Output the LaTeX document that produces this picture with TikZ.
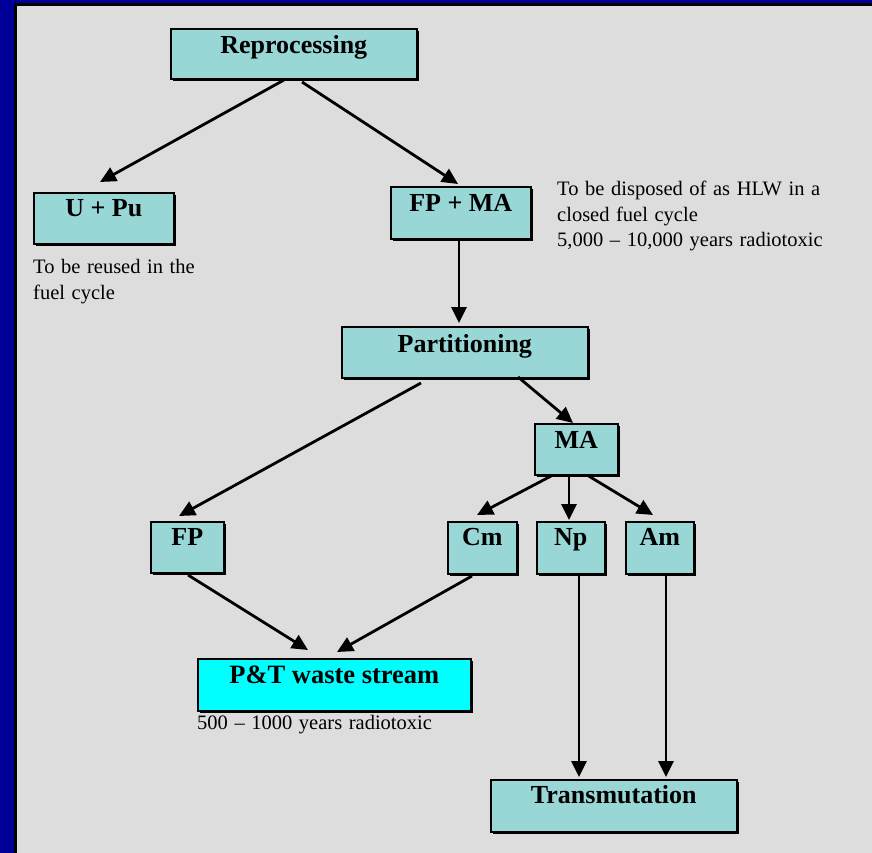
\documentclass[tikz,border=0pt]{standalone}
\usepackage{fontspec}
\setmainfont{Liberation Serif}
\usetikzlibrary{arrows.meta,shadows,calc}
\definecolor{frameblue}{RGB}{0,0,153}
\definecolor{panelgray}{RGB}{221,221,221}
\definecolor{boxteal}{RGB}{153,214,214}
\definecolor{ptcyan}{RGB}{0,255,255}
\newcommand\mynotefont{\fontsize{20.5}{25}\selectfont\spaceskip 6.6pt\relax}
\begin{document}
\begin{tikzpicture}[x=1pt,y=-1pt,
  box/.style={draw=black, line width=1.6pt, fill=boxteal, inner sep=0pt, anchor=north west,
    font=\fontsize{26}{30}\selectfont\bfseries,
    drop shadow={shadow xshift=2pt, shadow yshift=-2pt, opacity=1, fill=black}},
  note/.style={anchor=base west, inner sep=0pt, font=\mynotefont},
  arr/.style={line width=2.8pt, -{Triangle[length=16pt,width=15pt]}}]
\useasboundingbox (0,0) rectangle (872,853);
\fill[frameblue] (0,0) rectangle (872,853);
\fill[black] (13.5,2.7) rectangle (872,853);
\fill[panelgray] (17,6.5) rectangle (872,853);

\node[box, minimum width=246pt, text height=25pt, text depth=25pt] (rep) at (170,28) {Reprocessing};
\node[box, minimum width=140pt, text height=24pt, text depth=27pt] (upu) at (33,192) {U + Pu};
\node[box, minimum width=140pt, text height=25pt, text depth=27pt] (fpma) at (390,186) {FP + MA};
\node[box, minimum width=246pt, text height=26pt, text depth=25pt] (part) at (341,326) {Partitioning};
\node[box, minimum width=83pt, text height=25pt, text depth=26pt] (ma) at (534,423) {MA};
\node[box, minimum width=73pt, text height=24pt, text depth=27pt] (fp) at (150,521) {FP};
\node[box, minimum width=69pt, text height=24pt, text depth=28pt] (cm) at (447,521) {Cm};
\node[box, minimum width=68pt, text height=24pt, text depth=28pt] (np) at (536,521) {Np};
\node[box, minimum width=68pt, text height=24pt, text depth=28pt] (am) at (625,521) {Am};
\node[box, fill=ptcyan, minimum width=273pt, text height=25pt, text depth=27pt, font=\fontsize{26.5}{30}\selectfont\bfseries] (pt) at (197,658) {P\&T waste stream};
\node[box, minimum width=246pt, text height=24pt, text depth=28pt] (trans) at (490,779) {Transmutation};

\draw[arr] ($(rep.north west)+(114,52)$) -- ($(upu.north west)+(67,-10)$);
\draw[arr] ($(rep.north west)+(132,54)$) -- ($(fpma.north west)+(68,-2)$);
\draw[arr] ($(fpma.north west)+(69,52)$) -- ($(part.north west)+(118,-3)$);
\draw[arr] ($(part.north west)+(80,57)$) -- ($(fp.north west)+(29,-5)$);
\draw[arr] ($(part.north west)+(177,51)$) -- ($(ma.north west)+(39,0)$);
\draw[arr] ($(ma.north west)+(19,52)$) -- ($(cm.north west)+(30,-6)$);
\draw[arr] ($(ma.north west)+(35,52)$) -- ($(np.north west)+(33,-1)$);
\draw[arr] ($(ma.north west)+(53,52)$) -- ($(am.north west)+(28,-6)$);
\draw[arr] ($(fp.north west)+(38,54)$) -- ($(pt.north west)+(111,-8)$);
\draw[arr] ($(cm.north west)+(25,55)$) -- ($(pt.north west)+(140,-6)$);
\draw[arr] ($(np.north west)+(43,52)$) -- ($(trans.north west)+(89,-2)$);
\draw[arr] ($(am.north west)+(41,52)$) -- ($(trans.north west)+(176,-2)$);

\node[note] (n1a) at (557,196) {To be disposed of as HLW in a};
\node[note] (n1b) at (557,221) {closed fuel cycle};
\node[note] (n1c) at (557,246) {5,000 – 10,000 years radiotoxic};
\node[note] (n2a) at (33,273) {To be reused in the};
\node[note] (n2b) at (33,299) {fuel cycle};
\node[note] (n3) at (197,729) {500 – 1000 years radiotoxic};
\end{tikzpicture}
\end{document}
